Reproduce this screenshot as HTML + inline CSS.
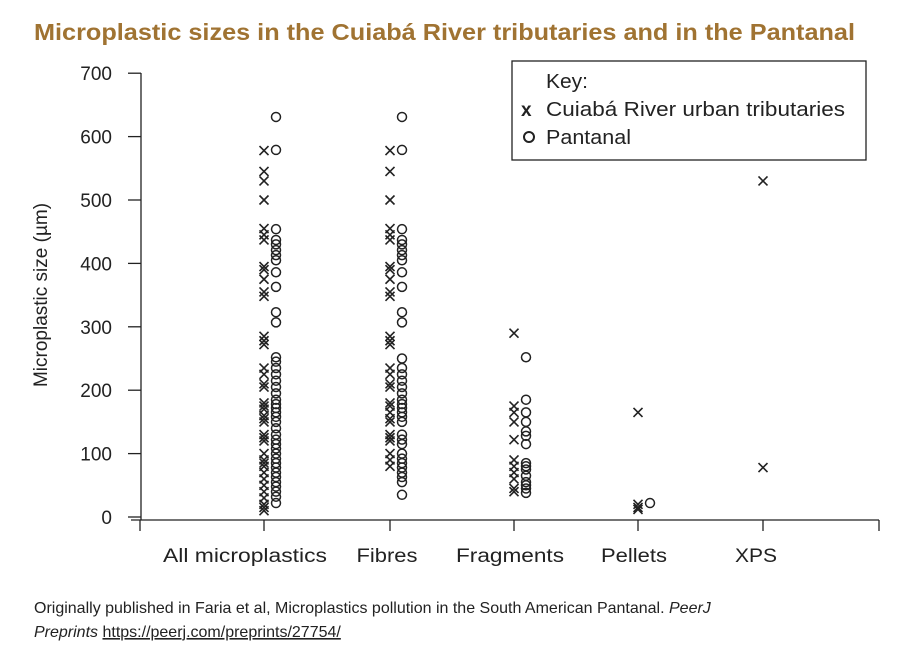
<!DOCTYPE html>
<html><head><meta charset="utf-8"><style>
body{margin:0;background:#fff;width:900px;height:656px;overflow:hidden;font-family:"Liberation Sans",sans-serif}
</style></head><body>
<svg width="900" height="656" style="position:absolute;left:0;top:0">
<text x="34" y="40" font-size="23" font-weight="bold" fill="#a07332" textLength="821" lengthAdjust="spacingAndGlyphs">Microplastic sizes in the Cuiabá River tributaries and in the Pantanal</text>
<g id="axes" stroke="#222" stroke-width="1.3" fill="none"></g>
<g id="marks"></g>
<g>
<rect x="512" y="61" width="354" height="99" fill="#fff" stroke="#222" stroke-width="1.3"/>
<text x="546" y="88" font-size="20" fill="#222" textLength="42" lengthAdjust="spacingAndGlyphs">Key:</text>
<text x="521" y="116" font-size="19" font-weight="bold" fill="#222">x</text>
<text x="546" y="116" font-size="20" fill="#222" textLength="299" lengthAdjust="spacingAndGlyphs">Cuiabá River urban tributaries</text>
<circle cx="529" cy="137" r="5" fill="none" stroke="#222" stroke-width="2"/>
<text x="546" y="144" font-size="20" fill="#222" textLength="85" lengthAdjust="spacingAndGlyphs">Pantanal</text>
</g>
<text transform="translate(47,295) rotate(-90)" text-anchor="middle" font-size="19" fill="#222">Microplastic size (µm)</text>
<text x="34" y="613" font-size="16" fill="#222">Originally published in Faria et al, Microplastics pollution in the South American Pantanal. <tspan font-style="italic">PeerJ</tspan></text>
<text x="34" y="637" font-size="16" fill="#222"><tspan font-style="italic">Preprints</tspan> <tspan text-decoration="underline">https://peerj.com/preprints/27754/</tspan></text>
</svg>
<script>
const categories=["All microplastics","Fibres","Fragments","Pellets","XPS"];
const yTicks=[0,100,200,300,400,500,600,700];
const tribValues=[
[578,545,530,500,455,445,437,395,390,375,355,348,285,278,272,235,225,210,205,180,175,170,160,155,150,130,125,120,100,90,85,80,70,60,50,40,30,20,15,10],
[578,545,500,455,445,437,395,390,375,355,348,285,278,272,235,225,210,205,180,175,165,155,150,130,125,120,100,90,80],
[290,175,165,150,122,90,80,70,60,45,40],
[165,20,15,12],
[530,78]];
const pantValues=[
[631,579,454,437,430,421,413,405,386,363,323,307,252,245,235,225,215,205,195,185,178,172,165,158,150,140,130,122,115,108,100,92,85,78,70,63,55,48,40,32,22],
[631,579,454,437,430,421,413,405,386,363,323,307,250,235,225,215,205,195,185,178,172,165,158,150,130,122,115,100,92,85,78,70,63,55,35],
[252,185,165,150,135,128,115,85,80,75,65,55,50,45,38],
[22],
[]];
const NS='http://www.w3.org/2000/svg';
const catX=[264,390,514,638,763];
const labelShift=[-19,-3,-4,-4,-7];
const labelLen=[164,61,108,66,42];
function xPos(i){return catX[i];}
function yPos(v){return 517-v*0.634;}
const axes=document.getElementById('axes'),marks=document.getElementById('marks'),svg=axes.parentNode;
function mk(tag,at,parent){const e=document.createElementNS(NS,tag);for(const k in at)e.setAttribute(k,at[k]);parent.appendChild(e);return e;}
let l=mk('line',{x1:131,y1:520,x2:879,y2:520},axes);


l=mk('line',{x1:141,y1:73,x2:141,y2:520},axes);


[140,264,390,514,638,763,879].forEach(x=>{const t=mk('line',{x1:x,y1:520,x2:x,y2:531},axes);

});
yTicks.forEach(v=>{const y=yPos(v);
const t=mk('line',{x1:128,y1:y,x2:141,y2:y},axes);


const tx=mk('text',{x:112,y:y+7,'text-anchor':'end','font-size':19,fill:'#222'},svg);
tx.textContent=v;

});
categories.forEach((c,i)=>{const tx=mk('text',{x:xPos(i)+labelShift[i]-labelLen[i]/2,y:562,'font-size':19,fill:'#222',textLength:labelLen[i],lengthAdjust:'spacingAndGlyphs'},svg);
tx.textContent=c;

});
tribValues.forEach((arr,i)=>arr.forEach(v=>{const x=xPos(i),y=yPos(v);
const p=mk('path',{d:`M${x-4.5},${y-4.5}L${x+4.5},${y+4.5}M${x-4.5},${y+4.5}L${x+4.5},${y-4.5}`,stroke:'#222','stroke-width':1.6,fill:'none'},marks);

}));
pantValues.forEach((arr,i)=>arr.forEach(v=>{
const c=mk('circle',{cx:xPos(i)+12,cy:yPos(v),r:4.5,stroke:'#222','stroke-width':1.5,fill:'none'},marks);

}));
</script>
</body></html>
